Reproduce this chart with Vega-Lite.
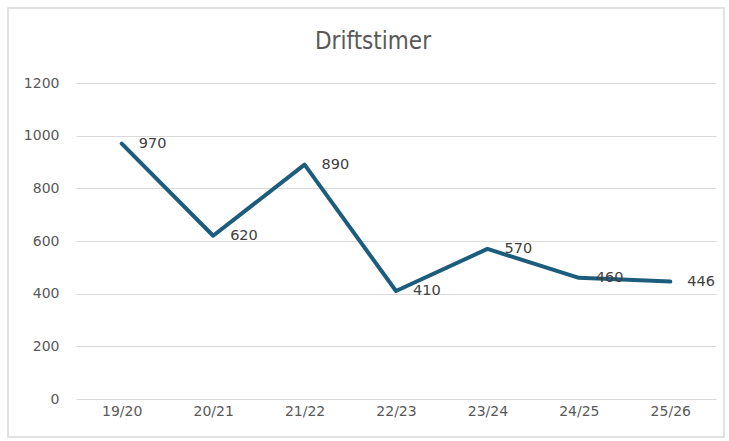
{
  "$schema": "https://vega.github.io/schema/vega-lite/v6.json",
  "width": 716,
  "height": 429,
  "padding": {"left": 8, "top": 8, "right": 5, "bottom": 4},
  "autosize": "none",
  "background": "white",
  "title": {"text": "Driftstimer", "fontSize": 24, "fontWeight": "normal", "color": "#595959", "font": "DejaVu Sans Condensed, Liberation Sans Narrow, Liberation Sans", "offset": -65, "baseline": "alphabetic", "anchor": "middle", "dx": 7},
  "config": {"view": {"stroke": "#d9d9d9", "strokeWidth": 1.5}},
  "data": {"values": [
    {"season": "19/20", "hours": 970},
    {"season": "20/21", "hours": 620},
    {"season": "21/22", "hours": 890},
    {"season": "22/23", "hours": 410},
    {"season": "23/24", "hours": 570},
    {"season": "24/25", "hours": 460},
    {"season": "25/26", "hours": 446}
  ]},
  "encoding": {
    "x": {"field": "season", "type": "ordinal", "sort": null,
      "scale": {"type": "point", "padding": 0.5, "range": [68, 708]},
      "axis": {"title": null, "grid": false, "domain": false, "ticks": false, "tickSize": 0, "labelPadding": 0, "offset": -33, "labelFontSize": 14, "labelColor": "#595959", "labelFont": "DejaVu Sans", "labelAngle": 0}},
    "y": {"field": "hours", "type": "quantitative",
      "scale": {"domain": [0, 1200], "nice": false, "range": [391, 75]},
      "axis": {"title": null, "values": [0, 200, 400, 600, 800, 1000, 1200], "format": "d", "domain": false, "ticks": false, "tickSize": 0, "labelPadding": 0, "offset": -51, "gridColor": "#d9d9d9", "gridWidth": 1, "labelFontSize": 14, "labelColor": "#595959", "labelFont": "DejaVu Sans"}}
  },
  "layer": [
    {"mark": {"type": "line", "color": "#1c5d7d", "strokeWidth": 4, "strokeCap": "round", "strokeJoin": "round"}},
    {"mark": {"type": "text", "align": "left", "baseline": "middle", "dx": 17, "fontSize": 14.5, "color": "#404040", "font": "DejaVu Sans"},
      "encoding": {"text": {"field": "hours", "type": "quantitative"}}}
  ]
}
